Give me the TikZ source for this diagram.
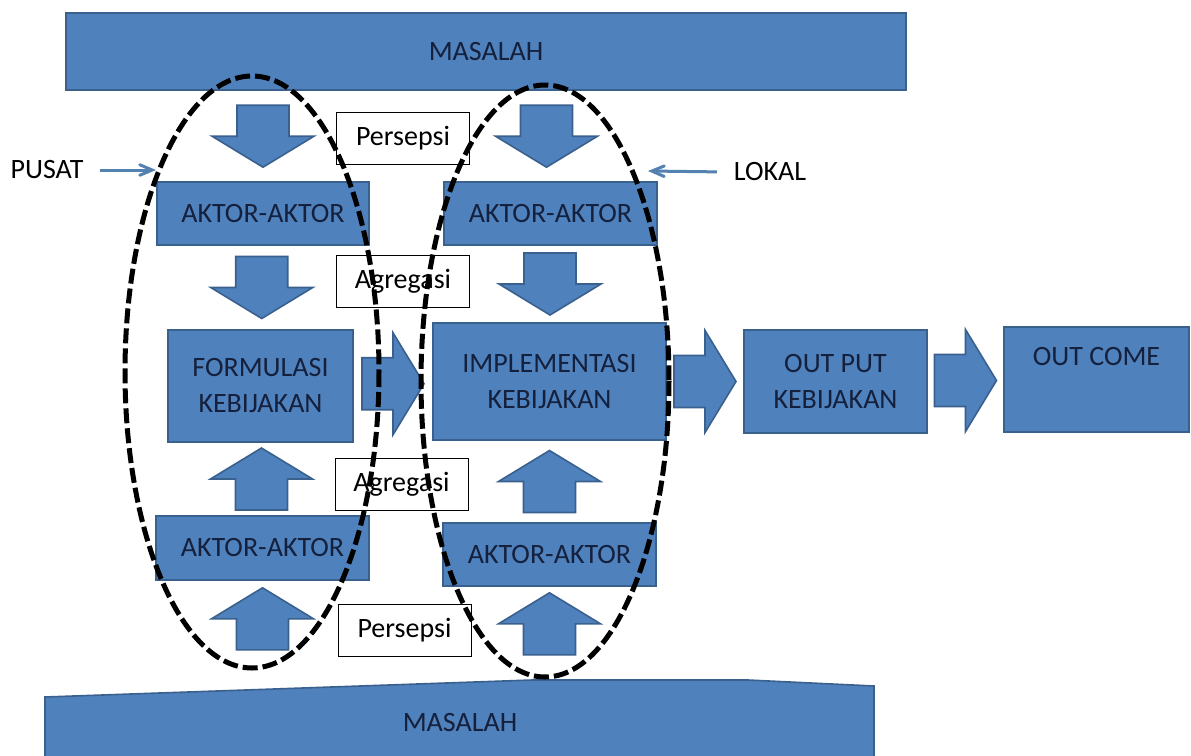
\documentclass[tikz,border=0pt]{standalone}
\usepackage{fontspec}
\setmainfont{Carlito}
\usepackage{tikz}
\usetikzlibrary{arrows,calc}

\definecolor{birukotak}{RGB}{79,129,189}
\definecolor{birutepi}{RGB}{58,96,142}
\definecolor{teksbiru}{RGB}{20,32,60}
\definecolor{panahtipis}{RGB}{84,130,176}

\tikzset{
  kotak/.style={draw=birutepi,line width=0.8pt,fill=birukotak,text=teksbiru,
    font=\fontsize{14}{18}\selectfont,align=center,inner sep=0pt},
  ketkotak/.style={draw=black,line width=0.5pt,fill=white,
    font=\fontsize{14}{18}\selectfont,inner sep=0pt,minimum width=66.5pt,minimum height=26pt},
  teks/.style={font=\fontsize{14}{18}\selectfont},
  garisoval/.style={draw=black,line width=2.5pt,dash pattern=on 7.5pt off 2.5pt},
  panahblok/.pic={\draw[draw=birutepi,line width=0.8pt,fill=birukotak]
    (-31,-26) -- (0,-26) -- (0,-51) -- (31,0) -- (0,51) -- (0,26) -- (-31,26) -- cycle;}
}

\begin{document}
\begin{tikzpicture}[x=0.5pt,y=-0.5pt]
\useasboundingbox (0,0) rectangle (1191,756);
\fill[white] (0,0) rectangle (1191,756);
\begin{scope}[>=angle 45]

    % masalah atas dan bawah
    \node[kotak,minimum width=420pt,minimum height=38.5pt] (masalahT) at (486,51.5) {MASALAH};
    \fill[birukotak,draw=birutepi,line width=0.8pt] (45,697) -- (532,680) -- (748,680) -- (874,686) -- (874,760) -- (45,760) -- cycle;
    \node[teks,text=teksbiru] (masalahB) at (460,723) {MASALAH};

    % aktor-aktor
    \node[kotak,minimum width=106pt,minimum height=31.5pt] (aktorLT) at (263,213.5) {AKTOR-AKTOR};
    \node[kotak,minimum width=106.5pt,minimum height=31.5pt] (aktorRT) at (550.5,213.5) {AKTOR-AKTOR};
    \node[kotak,minimum width=106.5pt,minimum height=32pt] (aktorLB) at (262.5,548) {AKTOR-AKTOR};
    \node[kotak,minimum width=106.5pt,minimum height=31.5pt] (aktorRB) at (549.5,554.5) {AKTOR-AKTOR};

    % kebijakan
    \node[kotak,minimum width=92.5pt,minimum height=56pt] (formulasi) at (260.5,386) {FORMULASI\\KEBIJAKAN};
    \node[kotak,minimum width=116.5pt,minimum height=58.5pt] (implementasi) at (549.5,381.5) {IMPLEMENTASI\\KEBIJAKAN};
    \node[kotak,minimum width=91.5pt,minimum height=51.5pt] (output) at (835.5,381.5) {OUT PUT\\KEBIJAKAN};
    \node[kotak,minimum width=92.5pt,minimum height=52.5pt] (outcome) at (1096.5,379.5) {OUT COME\\\strut};

    % persepsi dan agregasi
    \node[ketkotak] (persepsiT) at (403,138) {Persepsi};
    \node[ketkotak] (agregasiT) at (403,281.5) {Agregasi};
    \node[ketkotak] (agregasiB) at (401.5,484) {Agregasi};
    \node[ketkotak] (persepsiB) at (404.5,630.5) {Persepsi};

    % panah blok
    \pic[rotate=-90] at ($(aktorLT.north)+(0,-45)$) {panahblok};
    \pic[rotate=-90] at ($(aktorRT.north)+(-4,-45)$) {panahblok};
    \pic[rotate=-90] at ($(aktorLT.south)!0.5!(formulasi.north)$) {panahblok};
    \pic[rotate=-90] at ($(aktorRT.south)!0.5!(implementasi.north)$) {panahblok};
    \pic at ($(formulasi.east)!0.5!(implementasi.west)$) {panahblok};
    \pic at ($(implementasi.east)!0.5!(output.west)$) {panahblok};
    \pic at ($(output.east)!0.5!(outcome.west)$) {panahblok};
    \pic[rotate=90] at ($(formulasi.south)!0.5!(aktorLB.north)$) {panahblok};
    \pic[rotate=90] at ($(implementasi.south)!0.5!(aktorRB.north)$) {panahblok};
    \pic[rotate=90] at ($(aktorLB.south)+(0,38)$) {panahblok};
    \pic[rotate=90] at ($(aktorRB.south)+(0,37)$) {panahblok};

    % pusat dan lokal
    \node[teks] (pusat) at (47,170) {PUSAT};
    \coordinate (pusatUjung) at (156,170);
    \draw[panahtipis,line width=1.5pt,->,shorten <=5pt] (pusat.east) -- (pusatUjung);
    \node[teks] (lokal) at (770,172) {LOKAL};
    \coordinate (lokalUjung) at (648,171);
    \draw[panahtipis,line width=1.5pt,->,shorten <=5pt] (lokal.west) -- (lokalUjung);

    % lingkaran putus-putus
    \draw[garisoval] (252,372) ellipse [x radius=127,y radius=296];
    \draw[garisoval] (545,381) ellipse [x radius=124,y radius=296];

\end{scope}
\end{tikzpicture}
\end{document}
